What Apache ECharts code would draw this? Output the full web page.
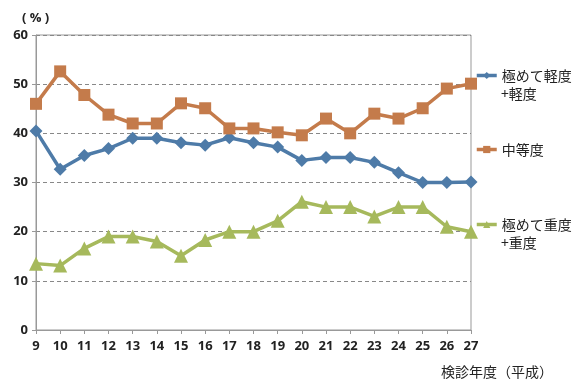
<!DOCTYPE html>
<html><head><meta charset="utf-8">
<script src="https://cdn.jsdelivr.net/npm/echarts@6/dist/echarts.min.js"></script>
<style>html,body{margin:0;padding:0;background:#fff}#c{width:572px;height:382px}</style>
</head><body><div id="c"></div>
<script>
const categories = ['9','10','11','12','13','14','15','16','17','18','19','20','21','22','23','24','25','26','27'];
const yTicks = [0,10,20,30,40,50,60];
const seriesNames = ['極めて軽度+軽度','中等度','極めて重度+重度'];
const legendLine1 = ['極めて軽度','中等度','極めて重度'];
const legendLine2 = ['+軽度','','+重度'];
const mild = [40.5,32.7,35.5,36.9,39.0,39.0,38.1,37.6,39.1,38.1,37.2,34.5,35.1,35.1,34.1,32.0,30.0,30.0,30.1];
const moderate = [46.0,52.6,47.8,43.8,42.0,42.0,46.1,45.1,41.0,41.0,40.2,39.6,43.0,40.0,44.0,43.0,45.1,49.1,50.1];
const severe = [13.5,13.1,16.6,19.0,19.0,18.0,15.1,18.3,20.0,20.0,22.2,26.1,25.0,25.0,23.1,25.0,25.0,21.0,20.0];

const colors = ['#4E7BA8','#C47B4B','#A6B95C'];
const jp = '"Noto Sans CJK JP", sans-serif';
const chart = echarts.init(document.getElementById('c'));
const legendTops = [66, 140, 215];
function legendAt(i){
  return {
    data:[seriesNames[i]], orient:'vertical', left:475, top:legendTops[i], padding:0,
    itemWidth:20, itemHeight:9, itemGap:0,
    lineStyle:{width:3.5},
    formatter:()=>legendLine1[i],
    textStyle:{fontFamily:jp, fontSize:14, color:'#222', lineHeight:19}
  };
}
const secondLines = [];
[0,2].forEach(i=>{
  secondLines.push({type:'text', left:501, top:legendTops[i]+21,
    style:{text:legendLine2[i], font:'14px ' + jp, fill:'#222'}});
});
chart.setOption({
  animation:false,
  textStyle:{fontFamily:jp},
  grid:{left:36, right:101, top:35, bottom:52, show:true, borderColor:'#999', borderWidth:1},
  legend:[legendAt(0), legendAt(1), legendAt(2)],
  graphic:secondLines,
  xAxis:{type:'category', data:categories, boundaryGap:false,
    axisLine:{lineStyle:{color:'#999'}},
    axisTick:{show:true, length:4, lineStyle:{color:'#999'}},
    axisLabel:{color:'#222', fontSize:13, fontWeight:'bold', fontFamily:'"Open Sans", sans-serif', margin:10},
    name:'検診年度（平成）', nameLocation:'end', nameGap:0,
    nameTextStyle:{fontFamily:jp, fontSize:14, color:'#222', align:'right', verticalAlign:'top', padding:[35,-82,0,0]}
  },
  yAxis:{type:'value', min:0, max:60, interval:10,
    axisLine:{show:true, lineStyle:{color:'#999'}},
    axisTick:{show:true, length:4, lineStyle:{color:'#999'}},
    splitLine:{lineStyle:{color:'#888', type:[4,3]}},
    axisLabel:{color:'#222', fontSize:13, fontWeight:'bold', fontFamily:'"Open Sans", sans-serif', margin:8,
      formatter:v=>yTicks.includes(v)?String(v):''},
    name:'( % )', nameLocation:'end', nameGap:10,
    nameTextStyle:{fontSize:13, fontWeight:'bold', color:'#222', fontFamily:'"Open Sans", sans-serif', align:'left', padding:[0,0,0,-14]}
  },
  series:[
    {name:seriesNames[0], type:'line', data:mild, color:colors[0], symbol:'diamond', symbolSize:13, lineStyle:{width:3.5}},
    {name:seriesNames[1], type:'line', data:moderate, color:colors[1], symbol:'rect', symbolSize:12, lineStyle:{width:3.5}},
    {name:seriesNames[2], type:'line', data:severe, color:colors[2], symbol:'triangle', symbolSize:14, lineStyle:{width:3.5}}
  ]
});
</script></body></html>
